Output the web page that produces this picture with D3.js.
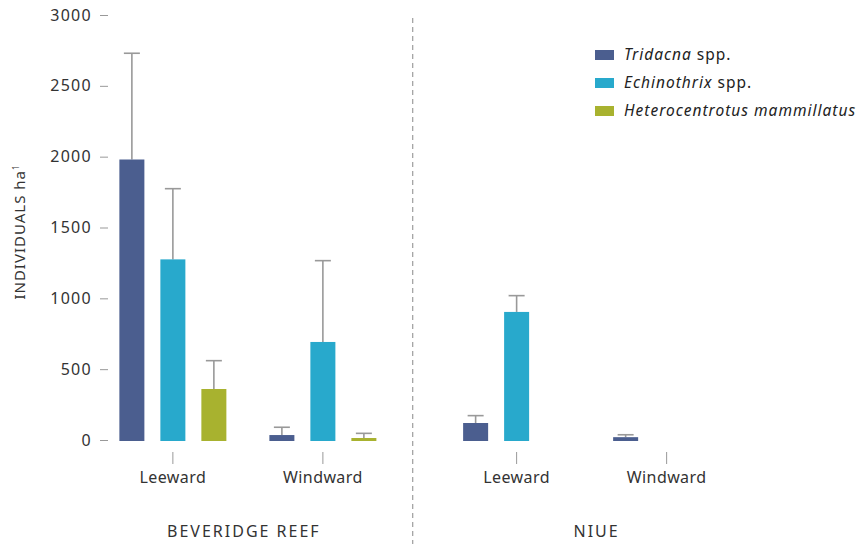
<!DOCTYPE html>
<html><head><meta charset="utf-8">
<script src="https://cdn.jsdelivr.net/npm/d3@7"></script>
<style>
body{margin:0;background:#fff;}
svg{display:block;font-family:"Noto Sans",sans-serif;}
</style></head>
<body><svg id="c" width="860" height="544"></svg>
<script>
const regions = ["BEVERIDGE REEF", "NIUE"];
const sites = ["Leeward", "Windward"];
const species = ["Tridacna", "Echinothrix", "Heterocentrotus"];
const speciesLabels = [["Tridacna", " spp."], ["Echinothrix", " spp."], ["Heterocentrotus mammillatus", ""]];
const colors = ["#4b5e8f", "#28a9cc", "#a8b22f"];
// order: Beveridge Leeward, Beveridge Windward, Niue Leeward, Niue Windward
const tridacnaMean = [1980, 35, 120, 20];
const tridacnaErr  = [750, 55, 52, 17];
const echinoMean   = [1275, 692, 904, 0];
const echinoErr    = [499, 574, 115, 0];
const heteroMean   = [360, 14, 0, 0];
const heteroErr    = [200, 33, 0, 0];
const yTicks = [0, 500, 1000, 1500, 2000, 2500, 3000];

const means = [tridacnaMean, echinoMean, heteroMean];
const errs = [tridacnaErr, echinoErr, heteroErr];

const svg = d3.select("#c");
const y = d3.scaleLinear().domain([0, 3000]).range([440, 15]);
const x0 = d3.scaleBand().domain(regions).range([76, 763.5]);
const x1 = d3.scalePoint().domain(sites).range([0, x0.bandwidth()]).padding(0.6458);
const x2 = d3.scaleBand().domain(species).range([-53.5, 53.5]).paddingInner(0.39).paddingOuter(0);

const data = [];
regions.forEach((r, ri) => sites.forEach((s, si) => {
  const idx = ri * 2 + si;
  species.forEach((sp, k) => {
    data.push({r, s, sp, k, v: means[k][idx], e: errs[k][idx]});
  });
}));
const cx = d => x0(d.r) + x1(d.s);

// y axis
const ya = svg.append("g").attr("transform", "translate(108,0)")
  .call(d3.axisLeft(y).tickValues(yTicks).tickFormat(d3.format("d")).tickSize(8).tickPadding(8));
ya.select(".domain").remove();
ya.selectAll(".tick line").attr("stroke", "#999").attr("stroke-width", 1);
ya.selectAll(".tick text").attr("fill", "#333").style("font-size", "16px")
  .style("letter-spacing", "1.3px").style("font-family", "Noto Sans");

// y label
const yl = svg.append("text").attr("transform", "translate(25,232) rotate(-90)")
  .attr("text-anchor", "middle").attr("fill", "#333").style("font-size", "15px")
  .style("letter-spacing", "1px");
yl.append("tspan").text("INDIVIDUALS ha");
yl.append("tspan").attr("dy", -6).style("font-size", "8px").text("1");

// dashed divider
const divX = x0("NIUE") - 7;
svg.append("line").attr("x1", divX).attr("x2", divX).attr("y1", 18).attr("y2", 544)
  .attr("stroke", "#888").attr("stroke-dasharray", "5,4").attr("stroke-width", 1);

// error bars
const eb = data.filter(d => d.e > 0);
svg.append("g").selectAll("line.v").data(eb).join("line")
  .attr("x1", d => cx(d) + x2(d.sp) + x2.bandwidth() / 2)
  .attr("x2", d => cx(d) + x2(d.sp) + x2.bandwidth() / 2)
  .attr("y1", d => y(d.v)).attr("y2", d => y(d.v + d.e))
  .attr("stroke", "#999").attr("stroke-width", 1.6);
svg.append("g").selectAll("line.h").data(eb).join("line")
  .attr("x1", d => cx(d) + x2(d.sp) + x2.bandwidth() / 2 - 8)
  .attr("x2", d => cx(d) + x2(d.sp) + x2.bandwidth() / 2 + 8)
  .attr("y1", d => y(d.v + d.e)).attr("y2", d => y(d.v + d.e))
  .attr("stroke", "#999").attr("stroke-width", 1.6);

// bars
svg.append("g").selectAll("rect").data(data.filter(d => d.v > 0)).join("rect")
  .attr("x", d => cx(d) + x2(d.sp))
  .attr("width", x2.bandwidth())
  .attr("y", d => y(d.v))
  .attr("height", d => y(0) - y(d.v) + 1)
  .attr("fill", d => colors[d.k]);

// x site ticks and labels
regions.forEach(r => sites.forEach(s => {
  const xx = x0(r) + x1(s);
  svg.append("line").attr("x1", xx).attr("x2", xx).attr("y1", 452).attr("y2", 464)
    .attr("stroke", "#999").attr("stroke-width", 1);
  svg.append("text").attr("x", xx).attr("y", 483).attr("text-anchor", "middle")
    .attr("fill", "#333").style("font-size", "16px").style("letter-spacing", "0.4px").text(s);
}));
// region labels
svg.append("g").selectAll("text").data(regions).join("text")
  .attr("x", d => x0(d) + x0.bandwidth() / 2 + (d === "NIUE" ? 5 : -4)).attr("y", 537).attr("text-anchor", "middle")
  .attr("fill", "#333").style("font-size", "16px").style("letter-spacing", "2px").text(d => d);

// legend
const lg = svg.append("g").attr("transform", "translate(595,0)");
speciesLabels.forEach((lab, i) => {
  const yy = 55 + i * 28;
  lg.append("rect").attr("x", 0).attr("y", yy - 5).attr("width", 19).attr("height", 10).attr("fill", colors[i]);
  const t = lg.append("text").attr("x", 29).attr("y", yy + 5).attr("fill", "#222")
    .style("font-size", "15.5px").style("letter-spacing", "1px");
  t.append("tspan").style("font-style", "italic").text(lab[0]);
  if (lab[1]) t.append("tspan").text(lab[1]);
});
</script></body></html>
